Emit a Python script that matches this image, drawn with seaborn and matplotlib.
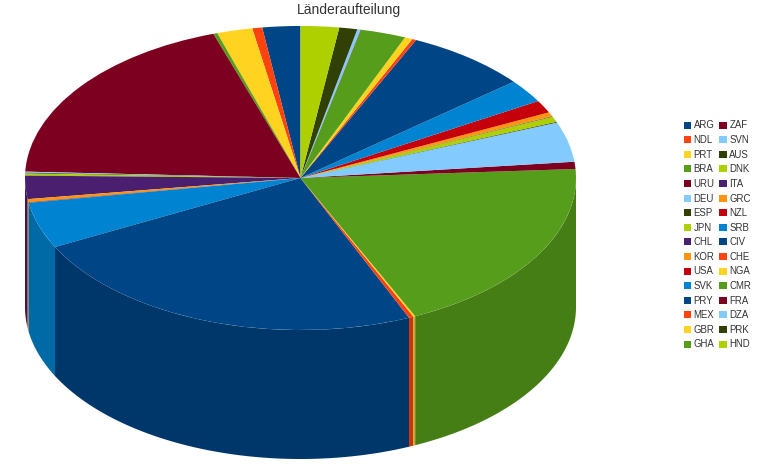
import numpy as np
import matplotlib
matplotlib.use("Agg")
import matplotlib.pyplot as plt
import seaborn as sns

countries = ["ARG","NDL","PRT","BRA","URU","DEU","ESP","JPN","CHL","KOR","USA","SVK","PRY","MEX","GBR","GHA",
             "ZAF","SVN","AUS","DNK","ITA","GRC","NZL","SRB","CIV","CHE","NGA","CMR","FRA","DZA","PRK","HND"]
shares = [8.0,2.1,7.5,0.85,69.15,0.4,0.3,0.8,8.9,1.2,0.2,17.6,86.2,1.0,0.4,68.8,
          2.75,15.25,0.3,2.1,0.2,1.6,4.8,8.9,25.9,0.85,1.65,9.6,0.1,0.7,3.8,8.1]
base_colors = ["#004586","#ff420e","#ffd320","#579d1c","#7e0021","#83caff",
               "#314004","#aecf00","#4b1f6f","#ff950e","#c5000b","#0084d1"]

W, H = 770, 468
CX, CY, RX, RY, DEPTH = 300.5, 178.0, 275.5, 152.0, 129.0

sns.set_theme(style="white")
plt.rcParams["font.family"] = ["Liberation Sans", "DejaVu Sans"]
palette = sns.color_palette(base_colors, n_colors=len(countries))

fig = plt.figure(figsize=(W / 100, H / 100), dpi=100, facecolor="white")
ax = fig.add_axes([0, 0, 1, 1])

wedges, _ = ax.pie(shares, colors=palette, startangle=90, counterclock=True,
                   radius=1.0, frame=False, wedgeprops=dict(linewidth=0, zorder=3))

# extruded side wall, front half only, derived from the same shares
edges = np.concatenate([[0.0], np.cumsum(shares)]) / np.sum(shares) * 360.0
d = DEPTH / RY
for start, stop, col in zip(edges[:-1], edges[1:], palette):
    a, b = max(start, 90.0), min(stop, 270.0)
    if b <= a:
        continue
    th = np.radians(np.linspace(a, b, max(int((b - a) * 2), 2)))
    xs, ys = -np.sin(th), np.cos(th)
    ax.fill(np.r_[xs, xs[::-1]], np.r_[ys, ys[::-1] - d],
            color=tuple(0.8 * c for c in col), linewidth=0, zorder=2)

ax.set_aspect("auto")
ax.set_xlim((0 - CX) / RX, (W - CX) / RX)
ax.set_ylim((CY - H) / RY, CY / RY)
ax.axis("off")

fig.text(349 / W, 1 - 10 / H, "Länderaufteilung", ha="center", va="center",
         fontsize=10, color="#333333")

leg = ax.legend(wedges, countries, ncol=2, loc="upper left",
                bbox_to_anchor=(683.5 / W, 1 - 120.5 / H), bbox_transform=fig.transFigure,
                frameon=False, fontsize=6.9, handlelength=0.75, handleheight=0.75,
                handletextpad=0.3, labelspacing=0.48, columnspacing=0.5,
                borderpad=0, borderaxespad=0, labelcolor="#333333")

fig.savefig("out.png", dpi=100, facecolor="white")
